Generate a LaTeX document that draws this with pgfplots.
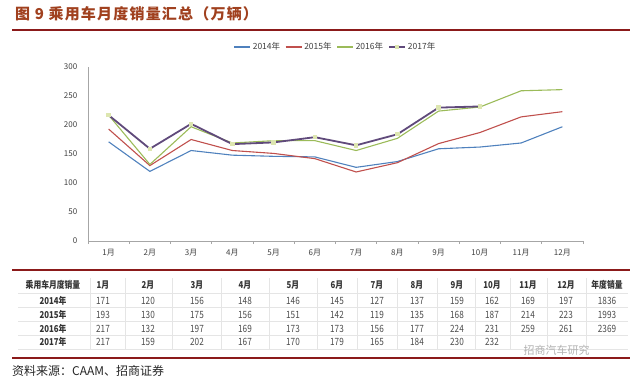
\documentclass[border=0pt]{standalone}
\usepackage{pgfplots}
\pgfplotsset{compat=1.18}
\usepackage{fontspec}
\setmainfont{Noto Sans CJK SC}
\newfontfamily\narrowfont[FakeStretch=0.82]{Noto Sans CJK SC}
\newfontfamily\widefont[LetterSpace=8]{Noto Sans CJK SC}
\definecolor{titlecol}{HTML}{A0401E}
\definecolor{redline}{HTML}{8B1A1A}
\definecolor{c14}{HTML}{4F81BD}
\definecolor{c15}{HTML}{C0504D}
\definecolor{c16}{HTML}{9BBB59}
\definecolor{c17}{HTML}{604A7B}
\definecolor{m17}{HTML}{DDE6B0}
\definecolor{axgray}{HTML}{A6A6A6}
\definecolor{txt}{HTML}{404040}
\begin{document}
\begin{tikzpicture}[x=1pt,y=1pt]
\useasboundingbox (0,0) rectangle (640,-383);
\node[anchor=west, text=titlecol, font=\widefont\bfseries\fontsize{15}{16}\selectfont, inner sep=0] at (15,-14) {图 9 乘用车月度销量汇总（万辆）};
\draw[redline, line width=1.5pt] (12,-30) -- (630,-30);
\begin{axis}[
  at={(88pt,-241pt)}, anchor=south west, scale only axis,
  width=495pt, height=174pt,
  xmin=0.5, xmax=12.5, ymin=0, ymax=300,
  ytick={0,50,...,300},
  xtick={1,...,12},
  xticklabels={1月,2月,3月,4月,5月,6月,7月,8月,9月,10月,11月,12月},
  minor xtick={0.5,1.5,...,12.5},
  /pgf/number format/assume math mode=true,
  axis x line*=bottom, axis y line*=left,
  axis line style={axgray, line width=0.8pt},
  xtick style={draw=none}, ytick style={draw=none},
  minor tick length=3pt, tick align=outside,
  minor x tick style={draw=axgray, line width=0.8pt},
  ticklabel style={font=\fontsize{8}{9}\selectfont, text=txt},
  yticklabel style={xshift=-3pt},
  legend columns=4,
  legend style={draw=none, at={(0.5,1.115)}, anchor=center, font=\fontsize{8.5}{10}\selectfont, text=txt,
    /tikz/every even column/.append style={column sep=3pt}},
  legend image code/.code={\draw[#1, mark repeat=2, mark phase=2] plot coordinates {(0pt,0pt)(8pt,0pt)(16pt,0pt)};},
]
\addplot[c14, line width=1.1pt] coordinates {(1,171)(2,120)(3,156)(4,148)(5,146)(6,145)(7,127)(8,137)(9,159)(10,162)(11,169)(12,197)};
\addlegendentry{2014年}
\addplot[c15, line width=1.1pt] coordinates {(1,193)(2,130)(3,175)(4,156)(5,151)(6,142)(7,119)(8,135)(9,168)(10,187)(11,214)(12,223)};
\addlegendentry{2015年}
\addplot[c16, line width=1.1pt] coordinates {(1,217)(2,132)(3,197)(4,169)(5,173)(6,173)(7,156)(8,177)(9,224)(10,231)(11,259)(12,261)};
\addlegendentry{2016年}
\addplot[c17, line width=1.8pt, mark=square*, mark size=1.3pt, mark options={fill=m17, draw=m17}] coordinates {(1,217)(2,159)(3,202)(4,167)(5,170)(6,179)(7,165)(8,184)(9,230)(10,232)};
\addlegendentry{2017年}
\end{axis}
% table
\draw[redline, line width=1.5pt] (12,-270) -- (630,-270);
\draw[redline, line width=1.5pt] (12,-358) -- (630,-358);
\foreach \y in {293,307,321,335,349} \draw[gray!20, line width=0.4pt] (18,-\y) -- (628,-\y);
\foreach \x in {90,125,172,221,269,317,357,397,437,475,510,547,586} \draw[gray!20, line width=0.4pt] (\x,-278) -- (\x,-350);
\node[font=\bfseries\narrowfont\fontsize{9.5}{10}\selectfont, text=black!80] at (53,-285) {乘用车月度销量};
\foreach \x/\t in {103/1月,148/2月,197/3月,245/4月,293/5月,337/6月,377/7月,417/8月,457/9月,492/10月,528/11月,566/12月,607/年度销量}
  \node[font=\bfseries\narrowfont\fontsize{9.5}{10}\selectfont, text=black!80] at (\x,-285) {\t};
\foreach \y/\lab in {301/2014年,315/2015年,329/2016年,342/2017年}
  \node[font=\bfseries\narrowfont\fontsize{9.5}{10}\selectfont, text=black!80] at (53,-\y) {\lab};
\foreach \x/\a/\b/\c/\d in {103/171/193/217/217,148/120/130/132/159,197/156/175/197/202,245/148/156/169/167,293/146/151/173/170,337/145/142/173/179,377/127/119/156/165,417/137/135/177/184,457/159/168/224/230,492/162/187/231/232,528/169/214/259/{},566/197/223/261/{},607/1836/1993/2369/{}}{
  \node[font=\narrowfont\fontsize{10}{10}\selectfont, text=black!70] at (\x,-301) {\a};
  \node[font=\narrowfont\fontsize{10}{10}\selectfont, text=black!70] at (\x,-315) {\b};
  \node[font=\narrowfont\fontsize{10}{10}\selectfont, text=black!70] at (\x,-329) {\c};
  \node[font=\narrowfont\fontsize{10}{10}\selectfont, text=black!70] at (\x,-342) {\d};
}
\node[text=gray!60, font=\fontsize{11}{12}\selectfont, anchor=west] at (520,-350) {招商汽车研究};
\node[anchor=west, font=\fontsize{12}{13}\selectfont, text=black!85, inner sep=0] at (12,-371) {资料来源：CAAM、招商证券};
\end{tikzpicture}
\end{document}
